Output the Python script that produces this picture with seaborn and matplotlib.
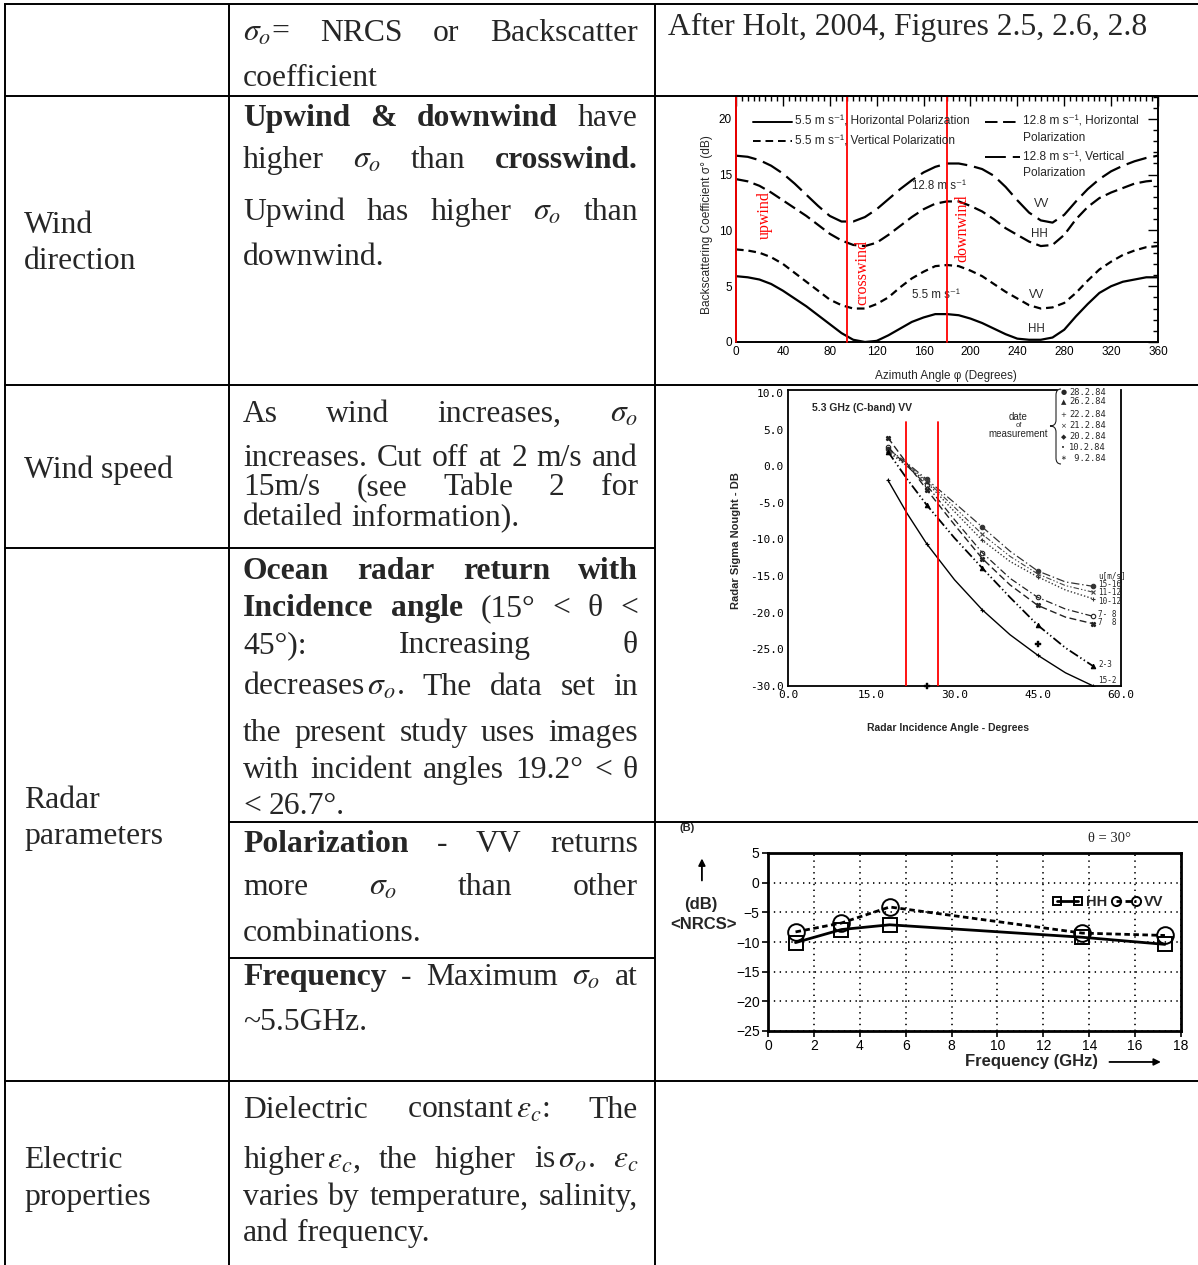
import matplotlib
matplotlib.use('Agg')
import numpy as np
import pandas as pd
import matplotlib.pyplot as plt
import seaborn as sns
from matplotlib.lines import Line2D
from matplotlib.path import Path
from matplotlib.patches import PathPatch
from matplotlib.transforms import Affine2D
from matplotlib.ticker import MultipleLocator, FormatStrFormatter

# ------------------------------------------------------------------ data
# Chart 1: backscatter vs azimuth (Holt 2004, Fig 2.5)
azimuth = list(range(0, 361, 10))
hh_55 = [5.9, 5.8, 5.6, 5.2, 4.6, 3.9, 3.2, 2.4, 1.6, 0.8, 0.2, 0.0, 0.1, 0.6, 1.2, 1.8, 2.2, 2.5, 2.5,
         2.4, 2.1, 1.7, 1.2, 0.7, 0.3, 0.2, 0.2, 0.4, 1.1, 2.3, 3.4, 4.4, 5.0, 5.4, 5.6, 5.8, 5.8]
vv_55 = [8.3, 8.2, 8.0, 7.6, 7.0, 6.2, 5.4, 4.6, 3.8, 3.3, 3.0, 3.0, 3.4, 4.0, 4.9, 5.7, 6.3, 6.8, 6.9,
         6.8, 6.4, 5.9, 5.2, 4.5, 3.9, 3.3, 3.0, 3.1, 3.5, 4.4, 5.5, 6.5, 7.2, 7.8, 8.2, 8.5, 8.6]
hh_128 = [14.6, 14.4, 14.0, 13.4, 12.7, 12.0, 11.3, 10.5, 9.7, 9.1, 8.7, 8.6, 8.9, 9.6, 10.4, 11.2, 11.9, 12.4, 12.6,
          12.6, 12.2, 11.7, 11.0, 10.2, 9.6, 9.0, 8.6, 8.7, 9.6, 11.0, 12.1, 12.9, 13.4, 13.8, 14.2, 14.4, 14.5]
vv_128 = [16.7, 16.6, 16.3, 15.8, 15.1, 14.2, 13.2, 12.2, 11.3, 10.8, 10.8, 11.2, 11.9, 12.8, 13.7, 14.5, 15.2, 15.7, 16.0,
          16.0, 15.8, 15.5, 14.9, 13.9, 12.7, 11.6, 10.9, 10.7, 11.4, 12.6, 13.7, 14.6, 15.3, 15.8, 16.2, 16.5, 16.7]
wind_marks = [0, 95, 180]
wind_mark_labels = ['upwind', 'crosswind', 'downwind']

# Chart 2: sigma nought vs incidence angle (Holt 2004, Fig 2.6)
incidence = [18, 21.5, 25, 30, 35, 40, 45, 50, 55]
s_15_16 = [2.4, 0.4, -1.8, -5.0, -8.3, -11.6, -14.3, -15.8, -16.4]
s_11_12 = [2.2, 0.2, -2.0, -5.6, -9.3, -12.3, -14.7, -16.3, -17.2]
s_10_12 = [2.0, 0.0, -2.2, -6.2, -10.1, -13.0, -15.1, -16.9, -18.1]
s_7_8a = [2.6, 0.0, -2.6, -7.3, -11.8, -15.3, -17.9, -19.5, -20.5]
s_7_8b = [3.9, 0.3, -3.2, -8.0, -12.6, -16.2, -19.0, -20.6, -21.5]
s_2_3 = [2.0, -1.8, -5.3, -9.8, -13.9, -17.9, -21.7, -24.8, -27.3]
s_15_2 = [-1.9, -6.5, -10.6, -15.5, -19.6, -23.0, -25.8, -28.2, -30.0]
extra_x = [45, 25]
extra_y = [-24.3, -30.0]
speed_labels = ['u[m/s]', '15-16', '11-12', '10-12', '7- 8', '7  8', '2-3', '15-2']
speed_label_y = [-14.9, -16.2, -17.3, -18.4, -20.2, -21.3, -27.0, -29.2]
dates = ['28.2.84', '26.2.84', '22.2.84', '21.2.84', '20.2.84', '10.2.84', ' 9.2.84']
date_symbols = ['\u25cf', '\u25b2', '+', '\u00d7', '\u25c6', '\u2022', '\u2217']
date_y = [10.1, 8.77, 7.0, 5.5, 4.0, 2.5, 1.1]
radar_marks = [21.3, 27.1]

# Chart 3: NRCS vs frequency (Holt 2004, Fig 2.8 B)
freq_ghz = [1.2, 3.2, 5.3, 13.7, 17.3]
nrcs_hh = [-10.1, -7.9, -7.1, -9.2, -10.4]
nrcs_vv = [-8.3, -6.8, -4.1, -8.5, -8.9]

# ------------------------------------------------------------------ style
sns.set_style('white')
SERIF = ['Liberation Serif', 'DejaVu Serif']
SANS = ['Liberation Sans', 'DejaVu Sans']
MONO = ['DejaVu Sans Mono']
plt.rcParams['font.family'] = SERIF
plt.rcParams['mathtext.fontset'] = 'stix'
plt.rcParams['lines.scale_dashes'] = False
plt.rcParams['axes.edgecolor'] = 'black'

W, H = 1198, 1265
fig = plt.figure(figsize=(W / 100, H / 100), dpi=100)
fig.patch.set_facecolor('white')
PX = Affine2D().scale(1, -1).translate(0, H)
renderer = fig.canvas.get_renderer()


def add_axes_px(l, t, r, b):
    return fig.add_axes([l / W, 1 - b / H, (r - l) / W, (b - t) / H])


# ------------------------------------------------------------------ table
LW = 1.4


def hline(y, x0, x1):
    fig.add_artist(Line2D([x0, x1], [y, y], transform=PX, color='black', lw=LW, solid_capstyle='butt'))


def vline(x, y0, y1):
    fig.add_artist(Line2D([x, x], [y0, y1], transform=PX, color='black', lw=LW, solid_capstyle='butt'))


hline(4, 4, W)
hline(96, 4, W)
hline(385, 4, W)
hline(548, 4, 655)
hline(822, 229, W)
hline(958, 229, 655)
hline(1081, 4, W)
vline(4.5, 4, H)
vline(229, 4, H)
vline(655, 4, H)

FS = 22.8
SPACE = FS * 100 / 72 * 0.25


def para_line(tokens, y, x0=243, x1=638, justify=True):
    arts, widths = [], []
    for tok in tokens:
        s, wt = tok if isinstance(tok, tuple) else (tok, 'normal')
        t = fig.text(0, 0, s, transform=PX, fontsize=FS, fontweight=wt,
                     family=SERIF, va='baseline', ha='left')
        widths.append(t.get_window_extent(renderer).width)
        arts.append(t)
    if justify and len(arts) > 1:
        gap = (x1 - x0 - sum(widths)) / (len(arts) - 1)
    else:
        gap = SPACE
    x = x0
    for t, w in zip(arts, widths):
        t.set_position((x, y))
        x += w + gap


B = 'bold'
sig = r'$\sigma_o$'
eps = r'$\varepsilon_c$'

# row 1
para_line([sig + '=', 'NRCS', 'or', 'Backscatter'], 41)
para_line(['coefficient'], 86, justify=False)
fig.text(668, 35, 'After Holt, 2004, Figures 2.5, 2.6, 2.8', transform=PX, fontsize=FS,
         family=SERIF, va='baseline', ha='left')
# row 2
para_line([('Upwind', B), ('&', B), ('downwind', B), 'have'], 126)
para_line(['higher', sig, 'than', ('crosswind.', B)], 168)
para_line(['Upwind', 'has', 'higher', sig, 'than'], 220)
para_line(['downwind.'], 265, justify=False)
# row 3
para_line(['As', 'wind', 'increases,', sig], 422)
para_line(['increases.', 'Cut', 'off', 'at', '2', 'm/s', 'and'], 466)
para_line(['15m/s', '(see', 'Table', '2', 'for'], 495)
para_line(['detailed', 'information).'], 525, justify=False)
# row 4
para_line([('Ocean', B), ('radar', B), ('return', B), ('with', B)], 579)
para_line([('Incidence', B), ('angle', B), '(15\u00b0', '<', '\u03b8', '<'], 616)
para_line(['45\u00b0):', 'Increasing', '\u03b8'], 653)
para_line(['decreases' + r'$\,\sigma_o$' + '.', 'The', 'data', 'set', 'in'], 695)
para_line(['the', 'present', 'study', 'uses', 'images'], 741)
para_line(['with', 'incident', 'angles', '19.2\u00b0', '<', '\u03b8'], 778)
para_line(['<', '26.7\u00b0.'], 814, justify=False)
# row 5
para_line([('Polarization', B), '-', 'VV', 'returns'], 852)
para_line(['more', sig, 'than', 'other'], 895)
para_line(['combinations.'], 941, justify=False)
# row 6
para_line([('Frequency', B), '-', 'Maximum', sig, 'at'], 985)
para_line(['~5.5GHz.'], 1030, justify=False)
# row 7
para_line(['Dielectric', 'constant' + r'$\,\varepsilon_c$' + ':', 'The'], 1118)
para_line(['higher' + r'$\,\varepsilon_c$' + ',', 'the', 'higher', 'is' + r'$\,\sigma_o$' + '.', eps], 1168)
para_line(['varies', 'by', 'temperature,', 'salinity,'], 1205)
para_line(['and', 'frequency.'], 1241, justify=False)

# first column
for txt, y in [('Wind', 233), ('direction', 269), ('Wind speed', 478), ('Radar', 808),
               ('parameters', 844), ('Electric', 1168), ('properties', 1205)]:
    fig.text(24, y, txt, transform=PX, fontsize=FS, family=SERIF, va='baseline', ha='left')

# ------------------------------------------------------------------ chart 1
ax1 = add_axes_px(736, 96, 1158, 342)
d1 = pd.DataFrame({'az': azimuth, 'hh55': hh_55, 'vv55': vv_55, 'hh128': hh_128, 'vv128': vv_128})
styles1 = {'hh55': None, 'vv55': (5.5, 3.5), 'hh128': (9, 4), 'vv128': (15, 5)}
for col in ['hh55', 'vv55', 'hh128', 'vv128']:
    sns.lineplot(data=d1, x='az', y=col, ax=ax1, color='black', lw=1.6)
    if styles1[col] is not None:
        ax1.lines[-1].set_dashes(styles1[col])
ax1.set_xlim(0, 360)
ax1.set_ylim(0, 22.05)
ax1.set_xticks(range(0, 361, 40))
ax1.set_yticks([0, 5, 10, 15, 20])
ax1.xaxis.set_minor_locator(MultipleLocator(5))
ax1.yaxis.set_minor_locator(MultipleLocator(1))
ax1.tick_params(which='both', direction='in', top=True, right=True, width=1, colors='black')
ax1.tick_params(which='major', length=7, labelsize=8.5, pad=3)
ax1.tick_params(which='minor', length=3.5)
for lbl in ax1.get_xticklabels() + ax1.get_yticklabels():
    lbl.set_family(SANS)
for s in ax1.spines.values():
    s.set_linewidth(1.4)
ax1.set_xlabel('Azimuth Angle \u03c6 (Degrees)', family=SANS, fontsize=8.5)
ax1.set_ylabel('Backscattering Coefficient \u03c3\u00b0 (dB)', family=SANS, fontsize=8.6)
ax1.xaxis.set_label_coords(0.498, -0.112)
ax1.yaxis.set_label_coords(-0.054, 0.476)
for xm in wind_marks:
    ax1.axvline(xm, color='red', lw=1.3, clip_on=False, zorder=5)
for (lx, ly), txt in zip([(24.8, 11.4), (108, 6.25), (193, 10.2)], wind_mark_labels):
    ax1.text(lx, ly, txt, rotation=90, color='red', fontsize=11.5, family=SERIF,
             ha='center', va='center')
for lx, ly, txt in [(150.5, 14.0, '12.8 m s\u207b\u00b9'), (254, 12.4, 'VV'), (251.5, 9.7, 'HH'),
                    (150.5, 4.2, '5.5 m s\u207b\u00b9'), (250, 4.2, 'VV'), (249, 1.2, 'HH')]:
    ax1.text(lx, ly, txt, family=SANS, fontsize=8.3, ha='left', va='center')
# legend keys
leg1 = [(753, 792, 122, None, '5.5 m s\u207b\u00b9, Horizontal Polarization', None),
        (753, 792, 141, (5.5, 3.5), '5.5 m s\u207b\u00b9, Vertical Polarization', None),
        (985, 1020, 122, (9, 4), '12.8 m s\u207b\u00b9, Horizontal', 'Polarization'),
        (985, 1020, 157, (15, 5), '12.8 m s\u207b\u00b9, Vertical', 'Polarization')]
for x0, x1, y, dash, t1, t2 in leg1:
    ln = Line2D([x0, x1], [y, y], transform=PX, color='black', lw=1.4)
    if dash is not None:
        ln.set_dashes(dash)
    fig.add_artist(ln)
    fig.text(x1 + 3, y, t1, transform=PX, family=SANS, fontsize=8.6, va='center', ha='left')
    if t2:
        fig.text(x1 + 3, y + 16, t2, transform=PX, family=SANS, fontsize=8.6, va='center', ha='left')

# ------------------------------------------------------------------ chart 2
ax2 = add_axes_px(788, 390, 1121, 686)
d2 = pd.DataFrame({'inc': incidence, 'g': s_15_16, 'f': s_11_12, 'e': s_10_12, 'd': s_7_8a,
                   'c': s_7_8b, 'b': s_2_3, 'a': s_15_2})
styles2 = [('g', (6, 2, 1, 2), 0.9, 'o', '#333333'),
           ('f', (4, 1.5, 1, 1.5, 1, 1.5), 0.8, 'x', '#444444'),
           ('e', (1, 1.5), 1.0, '+', '#333333'),
           ('d', (5, 2, 1, 2), 0.9, 'o', '#222222'),
           ('c', (5, 2.5), 1.0, 'X', '#222222'),
           ('b', (7, 2, 1, 2, 1, 2), 1.3, '^', 'black'),
           ('a', None, 1.0, '+', 'black')]
for col, dash, lw, mk, colr in styles2:
    sns.lineplot(data=d2, x='inc', y=col, ax=ax2, color=colr, lw=lw, marker=mk, markersize=3.2,
                 markeredgecolor=colr, markerfacecolor='none' if col == 'd' else colr,
                 markeredgewidth=0.8, markevery=[0, 2, 4, 6, 8])
    if dash is not None:
        ax2.lines[-1].set_dashes(dash)
sns.scatterplot(x=extra_x, y=extra_y, ax=ax2, marker='P', s=14, color='black', edgecolor='black',
                linewidth=0.3, clip_on=False, zorder=6)
for xm in radar_marks:
    ax2.plot([xm, xm], [-30, 6], color='red', lw=1.3, zorder=5)
ax2.set_xlim(0, 60)
ax2.set_ylim(-30, 10.4)
ax2.set_xticks([0, 15, 30, 45, 60])
ax2.set_yticks([-30, -25, -20, -15, -10, -5, 0, 5, 10])
ax2.xaxis.set_major_formatter(FormatStrFormatter('%.1f'))
ax2.yaxis.set_major_formatter(FormatStrFormatter('%.1f'))
ax2.xaxis.set_minor_locator(MultipleLocator(2.5))
ax2.yaxis.set_minor_locator(MultipleLocator(1))
ax2.tick_params(which='both', direction='in', colors='black', width=1)
ax2.tick_params(which='major', length=5, labelsize=8, pad=3)
ax2.tick_params(which='minor', length=2.5)
for lbl in ax2.get_xticklabels() + ax2.get_yticklabels():
    lbl.set_family(MONO)
for s in ax2.spines.values():
    s.set_linewidth(1.3)
ax2.spines['top'].set_bounds(0, 48.5)
ax2.set_xlabel('Radar Incidence Angle - Degrees', family=SANS, fontsize=7.5, fontweight='bold')
ax2.set_ylabel('Radar Sigma Nought - DB', family=SANS, fontsize=8, fontweight='bold')
ax2.xaxis.set_label_coords(0.48, -0.125)
ax2.yaxis.set_label_coords(-0.141, 0.493)
ax2.text(4.3, 7.95, '5.3 GHz (C-band) VV', family=SANS, fontsize=7.5, fontweight='bold', va='center')
for txt, yv in zip(speed_labels, speed_label_y):
    ax2.text(55.9, yv, txt, family=MONO, fontsize=5.5, va='center', ha='left', clip_on=False)
for sym, dt, yv in zip(date_symbols, dates, date_y):
    ax2.text(49.6, yv, sym, family=['DejaVu Sans'], fontsize=5, va='center', ha='center')
    ax2.text(50.6, yv, dt, family=MONO, fontsize=6.3, va='center', ha='left')
ax2.text(41.5, 6.72, 'date', family=SANS, fontsize=7, ha='center', va='center')
ax2.text(41.5, 5.6, 'of', family=SANS, fontsize=5.5, ha='center', va='center')
ax2.text(41.5, 4.4, 'measurement', family=SANS, fontsize=7, ha='center', va='center')
# brace (pixel coords)
bx, btop, bbot, btip = 1056, 389, 464, 1050
bmid = 426
verts = [(bx + 5, btop), (bx, btop), (bx, btop + 6), (bx, bmid - 6), (bx, bmid), (btip, bmid),
         (bx, bmid), (bx, bmid + 6), (bx, bbot - 6), (bx, bbot), (bx + 5, bbot)]
codes = [Path.MOVETO, Path.CURVE3, Path.CURVE3, Path.LINETO, Path.CURVE3, Path.CURVE3,
         Path.CURVE3, Path.CURVE3, Path.LINETO, Path.CURVE3, Path.CURVE3]
fig.add_artist(PathPatch(Path(verts, codes), transform=PX, fill=False, lw=0.8, color='#222222'))

# ------------------------------------------------------------------ chart 3
ax3 = add_axes_px(768, 853, 1181, 1031)
d3 = pd.DataFrame({'f': freq_ghz, 'HH': nrcs_hh, 'VV': nrcs_vv})
sns.lineplot(data=d3, x='f', y='HH', ax=ax3, color='black', lw=2.0, marker='s', markersize=10,
             markerfacecolor='none', markeredgecolor='black', markeredgewidth=1.4, label='HH')
sns.lineplot(data=d3, x='f', y='VV', ax=ax3, color='black', lw=2.0, marker='o', markersize=12,
             markerfacecolor='none', markeredgecolor='black', markeredgewidth=1.4, label='VV')
ax3.lines[-1].set_dashes((4, 2.5))
ax3.set_xlim(0, 18)
ax3.set_ylim(-25, 5)
ax3.set_xticks(range(0, 19, 2))
ax3.set_yticks([-25, -20, -15, -10, -5, 0, 5])
ax3.grid(True, color='black', linestyle=(0, (1, 3.2)), lw=1.2)
ax3.tick_params(which='major', direction='out', length=4, width=1.2, colors='black',
                labelsize=10, pad=2, left=True, bottom=True)
for lbl in ax3.get_xticklabels() + ax3.get_yticklabels():
    lbl.set_family(SANS)
for s in ax3.spines.values():
    s.set_linewidth(2)
ax3.set_xlabel('Frequency (GHz)', family=SANS, fontsize=12, fontweight='bold')
ax3.set_ylabel('')
ax3.xaxis.set_label_coords(0.637, -0.13)
leg = ax3.legend(loc='center left', bbox_to_anchor=(0.69, 0.725), ncol=2, numpoints=2, frameon=False,
                 handlelength=2.0, columnspacing=0.3, handletextpad=0.25, markerscale=0.55,
                 prop={'family': SANS, 'size': 10.5, 'weight': 'bold'}, borderaxespad=0, borderpad=0)
for txt, xa, ya, kw in [('(B)', -0.195, 1.14, dict(fontsize=8, fontweight='bold', family=SANS)),
                        ('\u03b8 = 30\u00b0', 0.828, 1.084, dict(fontsize=10.5, family=SERIF)),
                        ('(dB)', -0.163, 0.708, dict(fontsize=12, fontweight='bold', family=SANS)),
                        ('<NRCS>', -0.157, 0.60, dict(fontsize=12, fontweight='bold', family=SANS))]:
    ax3.text(xa, ya, txt, transform=ax3.transAxes, ha='center', va='center', **kw)
ax3.annotate('', xy=(-0.16, 0.985), xytext=(-0.16, 0.83), xycoords='axes fraction',
             arrowprops=dict(arrowstyle='-|>', color='black', lw=1.3, mutation_scale=10))
ax3.annotate('', xy=(0.958, -0.174), xytext=(0.82, -0.174), xycoords='axes fraction',
             arrowprops=dict(arrowstyle='-|>', color='black', lw=1.3, mutation_scale=10))

fig.savefig('out.png', dpi=100, facecolor='white')
